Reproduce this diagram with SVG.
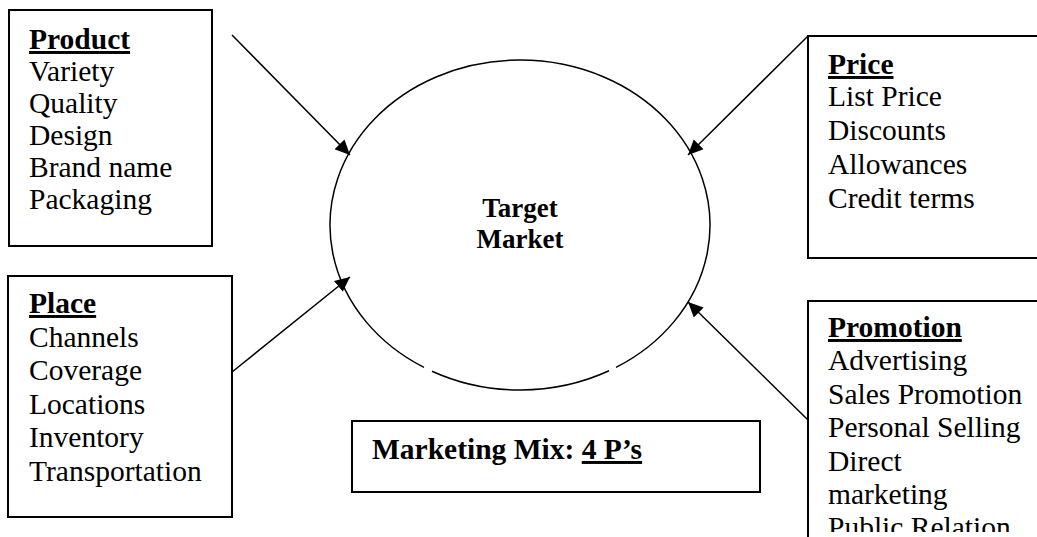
<svg xmlns="http://www.w3.org/2000/svg" width="1037" height="537" viewBox="0 0 1037 537">
<style>
.box{fill:#fff;stroke:#000;stroke-width:2}
.t{font-family:"Liberation Serif","Times New Roman",serif;font-size:29.5px;fill:#000}
.c{font-size:27px}
.h{font-weight:bold;text-decoration:underline}
.b{font-weight:bold}
.ln{fill:none;stroke:#000;stroke-width:1.5}
</style>
<defs>
<marker id="ah" markerUnits="userSpaceOnUse" markerWidth="16" markerHeight="15" refX="15" refY="7" orient="auto">
<path d="M0,0 L15,7 L0,14 z" fill="#000"/>
</marker>
<clipPath id="promoClip"><rect x="808" y="300" width="229" height="232"/></clipPath>
</defs>
<g id="target-market">
<path class="ln" d="M432,371.2 A190,165 0 0 0 609,370.8"/>
<path class="ln" d="M616,367.4 A190,165 0 1 0 424,367.4"/>
<text class="t b c" x="520" y="217" text-anchor="middle">Target</text>
<text class="t b c" x="520" y="248" text-anchor="middle">Market</text>
</g>
<g id="product">
<rect class="box" x="9" y="10" width="203" height="236"/>
<text class="t h" x="29" y="49">Product</text>
<text class="t" x="29" y="81">Variety</text>
<text class="t" x="29" y="113">Quality</text>
<text class="t" x="29" y="145">Design</text>
<text class="t" x="29" y="177">Brand name</text>
<text class="t" x="29" y="209">Packaging</text>
</g>
<g id="price">
<rect class="box" x="808" y="36" width="240" height="222"/>
<text class="t h" x="828" y="74">Price</text>
<text class="t" x="828" y="106">List Price</text>
<text class="t" x="828" y="140">Discounts</text>
<text class="t" x="828" y="174">Allowances</text>
<text class="t" x="828" y="208">Credit terms</text>
</g>
<g id="place">
<rect class="box" x="8" y="276" width="224" height="241"/>
<text class="t h" x="29" y="313">Place</text>
<text class="t" x="29" y="347">Channels</text>
<text class="t" x="29" y="380">Coverage</text>
<text class="t" x="29" y="414">Locations</text>
<text class="t" x="29" y="447">Inventory</text>
<text class="t" x="29" y="481">Transportation</text>
</g>
<g id="promotion">
<rect class="box" x="808" y="301" width="240" height="250"/>
<g clip-path="url(#promoClip)">
<text class="t h" x="828" y="337">Promotion</text>
<text class="t" x="828" y="370">Advertising</text>
<text class="t" x="828" y="404">Sales Promotion</text>
<text class="t" x="828" y="437">Personal Selling</text>
<text class="t" x="828" y="471">Direct</text>
<text class="t" x="828" y="504">marketing</text>
<text class="t" x="828" y="537">Public Relation</text>
</g>
</g>
<g id="marketing-mix">
<rect class="box" x="352" y="421" width="408" height="71"/>
<text class="t b" x="372" y="459">Marketing Mix: <tspan text-decoration="underline">4 P’s</tspan></text>
</g>
<g id="connectors">
<line class="ln" x1="232" y1="35" x2="350" y2="155" marker-end="url(#ah)"/>
<line class="ln" x1="808" y1="36" x2="688" y2="155" marker-end="url(#ah)"/>
<line class="ln" x1="232" y1="372" x2="350" y2="277" marker-end="url(#ah)"/>
<line class="ln" x1="808" y1="420" x2="688" y2="302" marker-end="url(#ah)"/>
</g>
</svg>
